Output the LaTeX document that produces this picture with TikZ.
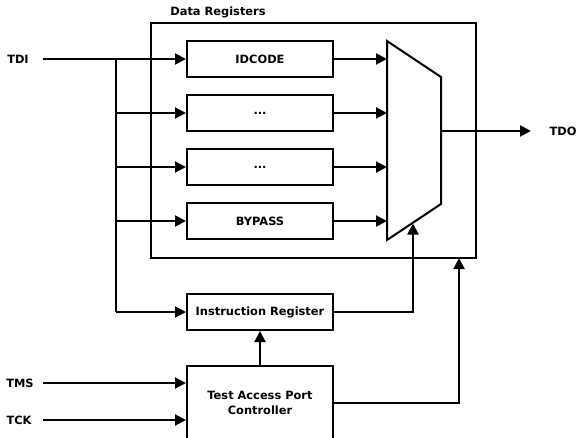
\documentclass[tikz,border=0pt]{standalone}
\usepackage{fontspec}
\setmainfont{DejaVu Sans}
\usetikzlibrary{arrows.meta}
\begin{document}
\begin{tikzpicture}[x=1pt,y=-1pt,
  every node/.style={font=\fontsize{11.4}{15}\selectfont\bfseries},
  box/.style={draw,line width=2pt,minimum width=146pt,minimum height=36pt,inner sep=0pt,anchor=center},
  conn/.style={line width=2pt,-{Triangle[length=11pt,width=11pt]}},
  wire/.style={line width=2pt},
  lbl/.style={inner sep=0pt}]
\useasboundingbox (0,0) rectangle (578,437);
% data registers frame
\node[draw,line width=2pt,minimum width=325pt,minimum height=235pt,inner sep=0pt] (dr) at (313.5,140.5) {};
\node[lbl] (drl) at (218,12) {Data Registers};
% registers
\node[box] (id) at (260,59) {IDCODE};
\node[box] (d1) at (260,113) {...};
\node[box] (d2) at (260,167) {...};
\node[box] (bp) at (260,221) {BYPASS};
% mux
\coordinate (mtl) at (387,41);
\coordinate (mtr) at (441,77);
\coordinate (mbr) at (441,204);
\coordinate (mbl) at (387,240);
\draw[wire,line join=miter] (mtl) -- (mtr) -- (mbr) -- (mbl) -- cycle;
\coordinate (m1) at (387,59);
\coordinate (m2) at (387,113);
\coordinate (m3) at (387,167);
\coordinate (m4) at (387,221);
\coordinate (mout) at (441,131);
\coordinate (msel) at (413,223.5);
% instruction register and TAP
\node[box] (ir) at (260,312) {Instruction Register};
\node[box,minimum height=74pt,align=center] (tap) at (260,403) {Test Access Port\\Controller};
% labels
\node[lbl] (tdi) at (18,59) {TDI};
\node[lbl] (tdo) at (563,131) {TDO};
\node[lbl] (tms) at (20,383) {TMS};
\node[lbl] (tck) at (19,420) {TCK};
\coordinate (tdis) at (43,59);
\coordinate (tmss) at (43,383);
\coordinate (tcks) at (43,420);
\coordinate (tdoe) at (531,131);
\coordinate (br) at (116,59);
% connectors
\draw[conn] (tdis) -- (id.west);
\draw[wire] (br) -- (br |- ir.west);
\draw[conn] (br |- ir.west) -- (ir.west);
\draw[conn] (br |- d1.west) -- (d1.west);
\draw[conn] (br |- d2.west) -- (d2.west);
\draw[conn] (br |- bp.west) -- (bp.west);
\draw[conn] (id.east) -- (m1);
\draw[conn] (d1.east) -- (m2);
\draw[conn] (d2.east) -- (m3);
\draw[conn] (bp.east) -- (m4);
\draw[conn] (mout) -- (tdoe);
\draw[conn] (ir.east) -| (msel);
\draw[conn] (tap.north) -- (ir.south);
\draw[conn] (tmss) -- (tmss -| tap.west);
\draw[conn] (tcks) -- (tcks -| tap.west);
\draw[conn] (tap.east) -| (459,258);
\end{tikzpicture}
\end{document}
